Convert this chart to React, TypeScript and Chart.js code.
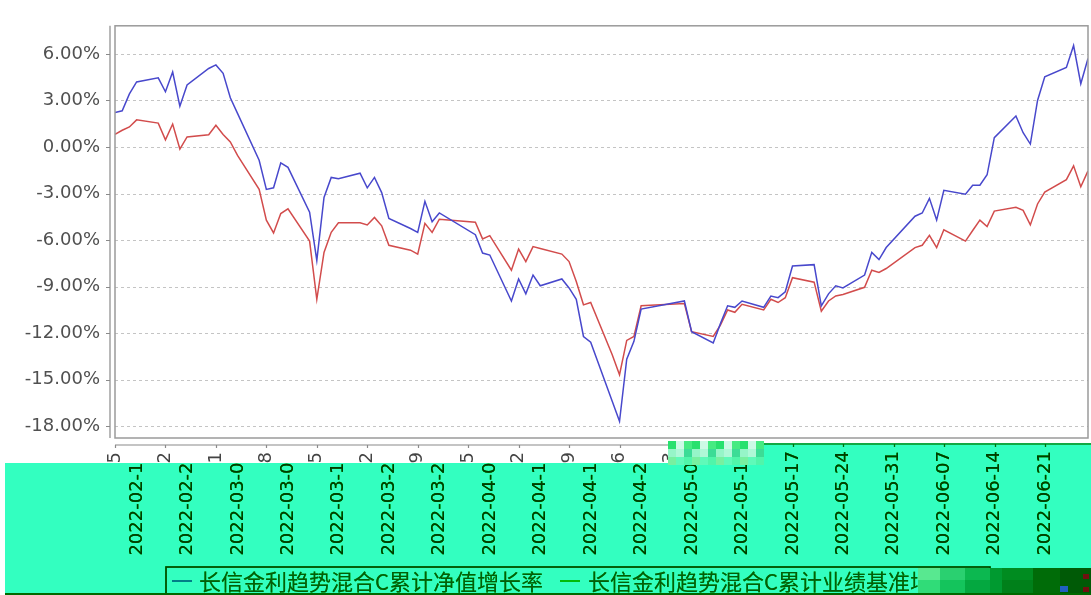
import React, { useEffect, useRef } from 'react';
import { Chart, registerables } from 'chart.js';

Chart.register(...registerables);

const dates = [
  '2022-02-15', '2022-02-16', '2022-02-17', '2022-02-18', '2022-02-21', '2022-02-22', '2022-02-23', '2022-02-24', '2022-02-25', '2022-02-28',
  '2022-03-01', '2022-03-02', '2022-03-03', '2022-03-04', '2022-03-07', '2022-03-08', '2022-03-09', '2022-03-10', '2022-03-11', '2022-03-14',
  '2022-03-15', '2022-03-16', '2022-03-17', '2022-03-18', '2022-03-21', '2022-03-22', '2022-03-23', '2022-03-24', '2022-03-25', '2022-03-28',
  '2022-03-29', '2022-03-30', '2022-03-31', '2022-04-01', '2022-04-06', '2022-04-07', '2022-04-08', '2022-04-11', '2022-04-12', '2022-04-13',
  '2022-04-14', '2022-04-15', '2022-04-18', '2022-04-19', '2022-04-20', '2022-04-21', '2022-04-22', '2022-04-25', '2022-04-26', '2022-04-27',
  '2022-04-28', '2022-04-29', '2022-05-05', '2022-05-06', '2022-05-09', '2022-05-10', '2022-05-11', '2022-05-12', '2022-05-13', '2022-05-16',
  '2022-05-17', '2022-05-18', '2022-05-19', '2022-05-20', '2022-05-23', '2022-05-24', '2022-05-25', '2022-05-26', '2022-05-27', '2022-05-30',
  '2022-05-31', '2022-06-01', '2022-06-02', '2022-06-06', '2022-06-07', '2022-06-08', '2022-06-09', '2022-06-10', '2022-06-13', '2022-06-14',
  '2022-06-15', '2022-06-16', '2022-06-17', '2022-06-20', '2022-06-21', '2022-06-22', '2022-06-23', '2022-06-24', '2022-06-27', '2022-06-28',
  '2022-06-29', '2022-06-30',
];

// 累计净值增长率 (%)
const navGrowth = [
  2.23, 2.33, 3.42, 4.19, 4.46, 3.56, 4.83, 2.63, 4.0, 5.06,
  5.29, 4.75, 3.17, 2.17, -0.85, -2.73, -2.63, -1.02, -1.31, -4.2,
  -7.31, -3.25, -1.96, -2.04, -1.69, -2.63, -1.96, -2.94, -4.6, -5.25,
  -5.5, -3.5, -4.81, -4.25, -5.65, -6.83, -6.96, -9.92, -8.5, -9.46,
  -8.25, -8.94, -8.5, -9.08, -9.81, -12.21, -12.58, -16.4, -17.67, -13.67,
  -12.52, -10.44, -9.92, -11.9, -12.63, -11.38, -10.23, -10.33, -9.92, -10.33,
  -9.6, -9.71, -9.33, -7.67, -7.58, -10.23, -9.46, -8.94, -9.08, -8.25,
  -6.79, -7.25, -6.48, -4.46, -4.25, -3.31, -4.71, -2.79, -3.04, -2.46,
  -2.46, -1.79, 0.6, 2.0, 0.92, 0.19, 3.0, 4.52, 5.13, 6.54,
  4.08, 5.71,
];

// 累计业绩基准增长率 (%)
const benchGrowth = [
  0.81, 1.08, 1.29, 1.75, 1.54, 0.46, 1.48, -0.13, 0.65, 0.79,
  1.4, 0.81, 0.33, -0.54, -2.73, -4.71, -5.54, -4.29, -3.98, -6.06,
  -9.81, -6.79, -5.5, -4.88, -4.88, -5.02, -4.54, -5.08, -6.33, -6.65,
  -6.9, -4.92, -5.5, -4.65, -4.85, -5.92, -5.71, -7.94, -6.58, -7.38,
  -6.42, -6.54, -6.9, -7.38, -8.67, -10.17, -10.02, -13.4, -14.67, -12.46,
  -12.21, -10.23, -10.08, -11.9, -12.21, -11.48, -10.5, -10.65, -10.13, -10.5,
  -9.81, -10.02, -9.71, -8.42, -8.71, -10.58, -9.92, -9.6, -9.5, -9.04,
  -7.94, -8.08, -7.83, -6.48, -6.33, -5.69, -6.48, -5.33, -6.06, -5.38,
  -4.71, -5.13, -4.13, -3.88, -4.08, -5.02, -3.67, -2.9, -2.1, -1.21,
  -2.56, -1.54,
];

const xTickDates = [
  '2022-02-15', '2022-02-22', '2022-03-01', '2022-03-08', '2022-03-15', '2022-03-22', '2022-03-29',
  '2022-04-05', '2022-04-12', '2022-04-19', '2022-04-26', '2022-05-03', '2022-05-10', '2022-05-17',
  '2022-05-24', '2022-05-31', '2022-06-07', '2022-06-14', '2022-06-21',
];
const yTickValues = [-18, -15, -12, -9, -6, -3, 0, 3, 6];
const seriesLabels = ['长信金利趋势混合C累计净值增长率', '长信金利趋势混合C累计业绩基准增长率'];
const seriesColors = ['#4848cc', '#d24c4c'];

const BASE = Date.UTC(2022, 1, 15);
const dayOf = (s: string) => Math.round((Date.parse(s + 'T00:00:00Z') - BASE) / 86400000);

const mintPalette = [
  [70, 235, 130], [150, 245, 200], [95, 250, 185], [205, 250, 230], [60, 220, 150],
  [120, 240, 160], [40, 225, 110], [175, 248, 215], [80, 245, 170],
];

const decorPlugin = {
  id: 'decor',
  beforeDatasetsDraw(chart: any) {
    const { ctx, chartArea, scales } = chart;
    const { left, right } = chartArea;
    ctx.save();
    ctx.strokeStyle = '#c4c4c4';
    ctx.lineWidth = 1;
    ctx.setLineDash([3, 3]);
    for (const v of yTickValues) {
      const py = Math.round(scales.y.getPixelForValue(v)) + 0.5;
      ctx.beginPath();
      ctx.moveTo(left, py);
      ctx.lineTo(right, py);
      ctx.stroke();
    }
    ctx.restore();
  },
  afterDraw(chart: any) {
    const { ctx, chartArea, scales } = chart;
    const { left, right, top, bottom } = chartArea;
    ctx.save();
    // frame
    ctx.strokeStyle = '#9a9a9a';
    ctx.lineWidth = 1.5;
    ctx.strokeRect(left, top, right - left, bottom - top);
    // offset y axis
    ctx.lineWidth = 1.2;
    ctx.strokeStyle = '#8a8a8a';
    ctx.beginPath();
    ctx.moveTo(left - 5, top);
    ctx.lineTo(left - 5, bottom);
    for (const v of yTickValues) {
      const py = Math.round(scales.y.getPixelForValue(v)) + 0.5;
      ctx.moveTo(left - 9, py);
      ctx.lineTo(left - 5, py);
    }
    ctx.stroke();
    // offset x axis
    ctx.beginPath();
    ctx.moveTo(left, bottom + 7);
    ctx.lineTo(right, bottom + 7);
    for (const d of xTickDates) {
      const px = Math.round(scales.x.getPixelForValue(dayOf(d))) + 0.5;
      ctx.moveTo(px, bottom + 7);
      ctx.lineTo(px, bottom + 10);
    }
    ctx.stroke();

    // legend (drawn at its own place, later recoloured/shifted)
    ctx.strokeStyle = '#555555';
    ctx.lineWidth = 1.5;
    ctx.beginPath();
    ctx.moveTo(144, 605);
    ctx.lineTo(144, 568);
    ctx.lineTo(968, 568);
    ctx.lineTo(968, 605);
    ctx.stroke();
    ctx.font = '22px "Noto Sans CJK SC"';
    ctx.textBaseline = 'middle';
    ctx.textAlign = 'left';
    const entries = [
      { mx: 150, tx: 177 },
      { mx: 538, tx: 566 },
    ];
    entries.forEach((e, i) => {
      ctx.strokeStyle = seriesColors[i];
      ctx.lineWidth = 2;
      ctx.beginPath();
      ctx.moveTo(e.mx, 582);
      ctx.lineTo(e.mx + 20, 582);
      ctx.stroke();
      ctx.fillStyle = '#7a7a7a';
      ctx.fillText(seriesLabels[i], e.tx, 583);
    });
    ctx.restore();

    // recoloured, shifted lower band
    const canvas = ctx.canvas;
    const W = canvas.width;
    const H = canvas.height;
    const img = ctx.getImageData(0, 0, W, H);
    const d = img.data;
    const s = new Uint8ClampedArray(d);
    const inMask = (x: number, y: number) =>
      (y >= 463 && x >= 5) || (x >= 760 && y >= 443);
    for (let y = 440; y < H; y++) {
      for (let x = 0; x < W; x++) {
        if (!inMask(x, y)) continue;
        const sx = x - 22;
        const sy = y + 1;
        let r = 255, g = 255, b = 255;
        if (sx >= 0 && sy < H) {
          const i = (sy * W + sx) * 4;
          const a = s[i + 3] / 255;
          r = s[i] * a + 255 * (1 - a);
          g = s[i + 1] * a + 255 * (1 - a);
          b = s[i + 2] * a + 255 * (1 - a);
        }
        const m = Math.max(r, g, b);
        const L = (0.3 * r + 0.59 * g + 0.11 * b) / 255;
        const L4 = L * L * L * L;
        const boost = Math.max(0, b - Math.max(r, g));
        const o = (y * W + x) * 4;
        d[o] = 51 * L4;
        d[o + 1] = 45 + 210 * Math.pow(m / 255, 2) - boost * 0.4;
        d[o + 2] = 192 * L4 + boost;
        d[o + 3] = 255;
        if (y >= 593) {
          d[o] = 0; d[o + 1] = 105; d[o + 2] = 0;
        }
      }
    }
    ctx.putImageData(img, 0, 0);

    // mosaic patches
    ctx.save();
    let k = 0;
    for (let bx = 668; bx < 760; bx += 8) {
      for (let by = 441; by < 465; by += 8) {
        const c = mintPalette[(k * 4 + Math.floor(bx / 8) * 3) % mintPalette.length];
        ctx.fillStyle = `rgb(${c[0]},${c[1]},${c[2]})`;
        ctx.fillRect(bx, by, 8, 8);
        k++;
      }
    }
    const blocks = [
      [918, 568, 22, 12, '#58e890'], [918, 580, 22, 13, '#30dc78'],
      [940, 568, 25, 12, '#2ad070'], [940, 580, 25, 13, '#14c45c'],
      [965, 568, 25, 12, '#0cb850'], [965, 580, 25, 13, '#04a840'],
      [990, 568, 12, 25, '#009a30'], [1002, 568, 31, 12, '#008c20'], [1002, 580, 31, 13, '#00801a'],
      [1033, 568, 27, 25, '#006c08'], [1060, 568, 31, 25, '#005a06'],
      [1060, 586, 8, 6, '#2060c0'], [1083, 574, 6, 5, '#701010'], [1083, 587, 6, 5, '#701010'],
    ];
    for (const b of blocks) {
      ctx.fillStyle = b[4] as string;
      ctx.fillRect(b[0] as number, b[1] as number, b[2] as number, b[3] as number);
    }
    ctx.restore();
  },
};

export default function App() {
  const canvasRef = useRef<HTMLCanvasElement | null>(null);

  useEffect(() => {
    if (!canvasRef.current) return;
    const mk = (vals: number[]) => dates.map((dt, i) => ({ x: dayOf(dt), y: vals[i] }));
    const chart = new Chart(canvasRef.current, {
      type: 'line',
      data: {
        datasets: [
          {
            label: seriesLabels[0],
            data: mk(navGrowth),
            borderColor: seriesColors[0],
            borderWidth: 1.5,
            pointRadius: 0,
            tension: 0,
          },
          {
            label: seriesLabels[1],
            data: mk(benchGrowth),
            borderColor: seriesColors[1],
            borderWidth: 1.5,
            pointRadius: 0,
            tension: 0,
          },
        ],
      },
      options: {
        animation: false,
        responsive: false,
        layout: { padding: { left: 0, right: 3, top: 13, bottom: 0 } },
        plugins: { legend: { display: false }, tooltip: { enabled: false } },
        scales: {
          x: {
            type: 'linear',
            min: 0,
            max: 135,
            afterBuildTicks: (sc: any) => {
              sc.ticks = xTickDates.map((dt) => ({ value: dayOf(dt) }));
            },
            afterFit: (sc: any) => {
              sc.height = 157;
            },
            grid: { display: false, drawTicks: false },
            border: { display: false },
            ticks: {
              autoSkip: false,
              minRotation: 90,
              maxRotation: 90,
              padding: 14,
              color: '#444444',
              font: { family: 'DejaVu Sans', size: 18 },
              callback: (v: any) => {
                const f = xTickDates.find((dt) => dayOf(dt) === Math.round(Number(v)));
                return f || '';
              },
            },
          },
          y: {
            min: -18.75,
            max: 7.81,
            afterBuildTicks: (sc: any) => {
              sc.ticks = yTickValues.map((v) => ({ value: v }));
            },
            afterFit: (sc: any) => {
              sc.width = 115;
            },
            grid: { display: false, drawTicks: false },
            border: { display: false },
            ticks: {
              padding: 15,
              color: '#505050',
              font: { family: 'DejaVu Sans', size: 18 },
              callback: (v: any) => Number(v).toFixed(2) + '%',
            },
          },
        },
      },
      plugins: [decorPlugin],
    });
    return () => chart.destroy();
  }, []);

  return (
    <div style={{ position: 'absolute', left: 0, top: 0, width: 1091, height: 595, background: '#ffffff' }}>
      <canvas ref={canvasRef} width={1091} height={595} style={{ display: 'block' }} />
    </div>
  );
}
